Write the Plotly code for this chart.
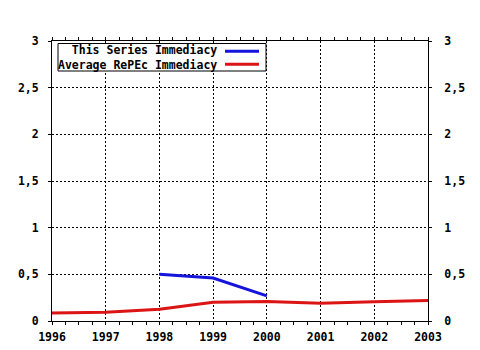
import plotly.graph_objects as go

years_series = [1998, 1999, 2000]
series_immediacy = [0.50, 0.46, 0.27]
years_avg = [1996, 1997, 1998, 1999, 2000, 2001, 2002, 2003]
avg_immediacy = [0.085, 0.095, 0.125, 0.20, 0.21, 0.19, 0.205, 0.22]

y_ticks = [0, 0.5, 1, 1.5, 2, 2.5, 3]
y_tick_labels = ["0", "0,5", "1", "1,5", "2", "2,5", "3"]
x_ticks = [1996, 1997, 1998, 1999, 2000, 2001, 2002, 2003]
legend_labels = ["This Series Immediacy", "Average RePEc Immediacy"]
BLUE = "#1414dc"
RED = "#dc1414"

FONT = dict(family="DejaVu Sans Mono", size=11.5, color="black", weight="bold")

fig = go.Figure()
fig.add_trace(go.Scatter(x=years_series, y=series_immediacy, mode="lines",
                         line=dict(color=BLUE, width=3), showlegend=False))
fig.add_trace(go.Scatter(x=years_avg, y=avg_immediacy, mode="lines",
                         line=dict(color=RED, width=3), showlegend=False))
fig.add_trace(go.Scatter(x=[None], y=[None], yaxis="y2", showlegend=False))

L, R, T, B = 52, 52, 41, 29
W, H = 480, 350

fig.update_layout(
    width=W, height=H,
    margin=dict(l=L, r=R, t=T, b=B, pad=0, autoexpand=False),
    paper_bgcolor="white", plot_bgcolor="white",
    font=FONT,
    xaxis=dict(range=[1996, 2003], tickvals=x_ticks, ticktext=[str(v) for v in x_ticks],
               automargin=False,
               showgrid=True, gridcolor="black", gridwidth=1, griddash="2px,2px",
               showline=True, linecolor="black", linewidth=1, mirror="allticks",
               ticks="outside", ticklen=3, tickcolor="black", zeroline=False,
               minor=dict(dtick=0.25, tick0=1996, ticks="outside", ticklen=3, tickcolor="black", showgrid=False),
               ticklabelstandoff=2, tickfont=FONT),
    yaxis=dict(range=[0, 3], tickvals=y_ticks, ticktext=y_tick_labels,
               automargin=False,
               showgrid=True, gridcolor="black", gridwidth=1, griddash="2px,2px",
               showline=True, linecolor="black", linewidth=1, mirror=True,
               ticks="outside", ticklen=3, tickcolor="black", zeroline=False,
               ticklabelstandoff=7, tickfont=FONT),
    yaxis2=dict(range=[0, 3], tickvals=y_ticks, ticktext=y_tick_labels, overlaying="y",
                automargin=False,
                side="right", showgrid=False, showline=False, zeroline=False,
                ticks="outside", ticklen=3, tickcolor="black",
                ticklabelstandoff=10, tickfont=FONT),
)

def px(x):
    return (x - L) / (W - L - R)

def py(y):
    return (H - B - y) / (H - T - B)

fig.add_shape(type="rect", xref="paper", yref="paper",
              x0=px(58), x1=px(266), y0=py(71), y1=py(43.5),
              line=dict(color="black", width=1), fillcolor="white", layer="above")
fig.add_annotation(x=px(219), y=py(57.7), xref="paper", yref="paper",
                   text="<br>".join(legend_labels), align="right",
                   showarrow=False, xanchor="right", yanchor="middle", font=FONT)
for i, col in enumerate([BLUE, RED]):
    yc = [51.2, 64.2][i]
    fig.add_shape(type="line", xref="paper", yref="paper",
                  x0=px(225), x1=px(259), y0=py(yc), y1=py(yc),
                  line=dict(color=col, width=3), layer="above")

fig.write_html("out.html")
